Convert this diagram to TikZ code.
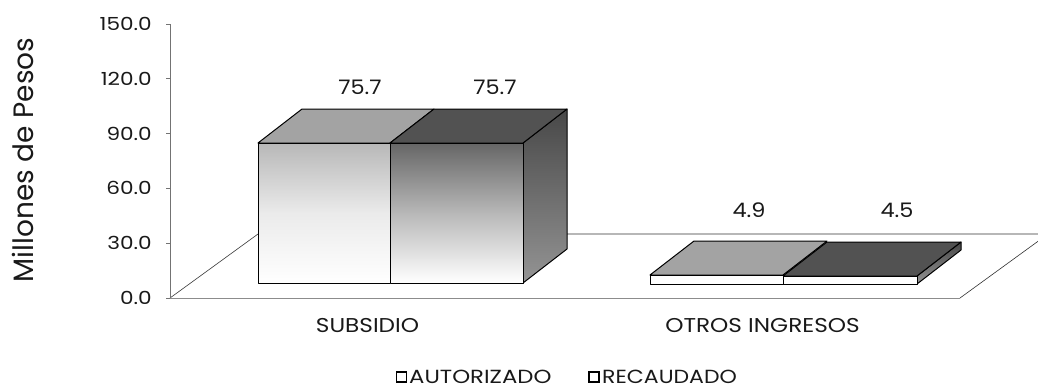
\documentclass[tikz,border=0pt]{standalone}
\usepackage{graphicx}
\usepackage{fontspec}
\setmainfont{Poppins}
\newfontfamily\chartfont[Numbers=Monospaced]{Poppins}
\newcommand{\hstr}[2]{\scalebox{#1}[1]{#2}}
\usetikzlibrary{calc}
\begin{document}
\begin{tikzpicture}[x=1pt,y=-1pt,
  lbl/.style={font=\chartfont\fontsize{20}{20}\selectfont, inner sep=0pt, text=black!90},
  leglbl/.style={font=\chartfont\fontsize{19}{19}\selectfont, inner sep=0pt, text=black!90, anchor=base west},
  ticklbl/.style={font=\chartfont\fontsize{18}{18}\selectfont, inner sep=0pt, text=black!90, anchor=east},
  floorline/.style={draw=black!80, line width=0.6pt},
  frontline/.style={draw=black!45, line width=0.9pt},
  axisline/.style={draw=black!55, line width=0.8pt},
  edge/.style={draw=black, line width=1pt, line join=round},
  topA/.style={edge, fill=black!36},
  topB/.style={edge, fill=black!68},
  frontA/.style={edge, top color=black!28, bottom color=white, middle color=black!8},
  frontB/.style={edge, top color=black!60, bottom color=white, middle color=black!28},
  sideB/.style={edge, top color=black!72, bottom color=black!42},
  legbox/.style={draw=black, line width=1.3pt, fill=white, minimum size=10pt, inner sep=0pt}
]
\useasboundingbox (0,0) rectangle (1038,389);

% floor
\coordinate (F1) at (170,298);
\coordinate (F2) at (960,298);
\coordinate (F3) at (1048,234);
\coordinate (F4) at (258,234);
\draw[floorline] (F1) -- (F4) -- (F3);
\draw[floorline] (F2) -- (F3);
\draw[frontline] (F1) -- (F2);

% axis
\coordinate (A0) at (170,298);
\coordinate (A1) at (170,24);
\draw[axisline] (A0) -- (A1);
\foreach \i/\v in {0/0.0,1/30.0,2/60.0,3/90.0,4/120.0,5/150.0}{
  \coordinate (t\i) at (170,{298-54.8*\i});
  \draw[axisline] (t\i) -- ++(-4,0);
  \node[ticklbl] (tl\i) at ([xshift=-18pt]t\i) {\hstr{1.2}{\v}};
}
\node[font=\fontsize{28}{28}\selectfont, rotate=90, inner sep=0pt, text=black!90] (ytitle) at (23,160) {Millones de Pesos};

% SUBSIDIO bars
\coordinate (s0b) at (258,283); \coordinate (s0t) at (258,143);
\coordinate (s1b) at (390,283); \coordinate (s1t) at (390,143);
\coordinate (s2b) at (523,283); \coordinate (s2t) at (523,143);
\coordinate (d) at (44,-34);
\draw[sideB] (s2t) -- ++(d) -- ($(s2b)+(d)$) -- (s2b) -- cycle;
\draw[topA] (s0t) -- (s1t) -- ++(d) -- ($(s0t)+(d)$) -- cycle;
\draw[topB] (s1t) -- (s2t) -- ++(d) -- ($(s1t)+(d)$) -- cycle;
\draw[frontA] (s0b) rectangle (s1t);
\draw[frontB] (s1b) rectangle (s2t);

% OTROS bars
\coordinate (o0b) at (650,284); \coordinate (o0t) at (650,275);
\coordinate (o1b) at (783,284); \coordinate (o1t) at (783,275);
\coordinate (o1u) at (783,276);
\coordinate (o2b) at (917,284); \coordinate (o2t) at (917,276);
\draw[sideB] (o2t) -- ++(d) -- ($(o2b)+(d)$) -- (o2b) -- cycle;
\draw[topA] (o0t) -- (o1t) -- ++(d) -- ($(o0t)+(d)$) -- cycle;
\draw[topB] (o1u) -- (o2t) -- ++(d) -- ($(o1u)+(d)$) -- cycle;
\draw[edge, fill=white] (o0b) rectangle (o1t);
\draw[edge, fill=white] (o1b) rectangle (o2t);

% data labels
\node[lbl] (v1) at (360,87) {\hstr{1.12}{75.7}};
\node[lbl] (v2) at (495,87) {\hstr{1.12}{75.7}};
\node[lbl] (v3) at (749,210) {\hstr{1.12}{4.9}};
\node[lbl] (v4) at (897,210) {\hstr{1.12}{4.5}};

% category labels
\node[lbl] (c1) at (367.5,326) {\hstr{1.16}{SUBSIDIO}};
\node[lbl] (c2) at (762.5,326) {\hstr{1.16}{OTROS INGRESOS}};

% legend
\node[legbox] (lb1) at (401.5,377) {};
\node[leglbl] (lt1) at (409,383) {\hstr{1.2}{AUTORIZADO}};
\node[legbox] (lb2) at (594,377) {};
\node[leglbl] (lt2) at (602,383) {\hstr{1.16}{RECAUDADO}};
\end{tikzpicture}
\end{document}
